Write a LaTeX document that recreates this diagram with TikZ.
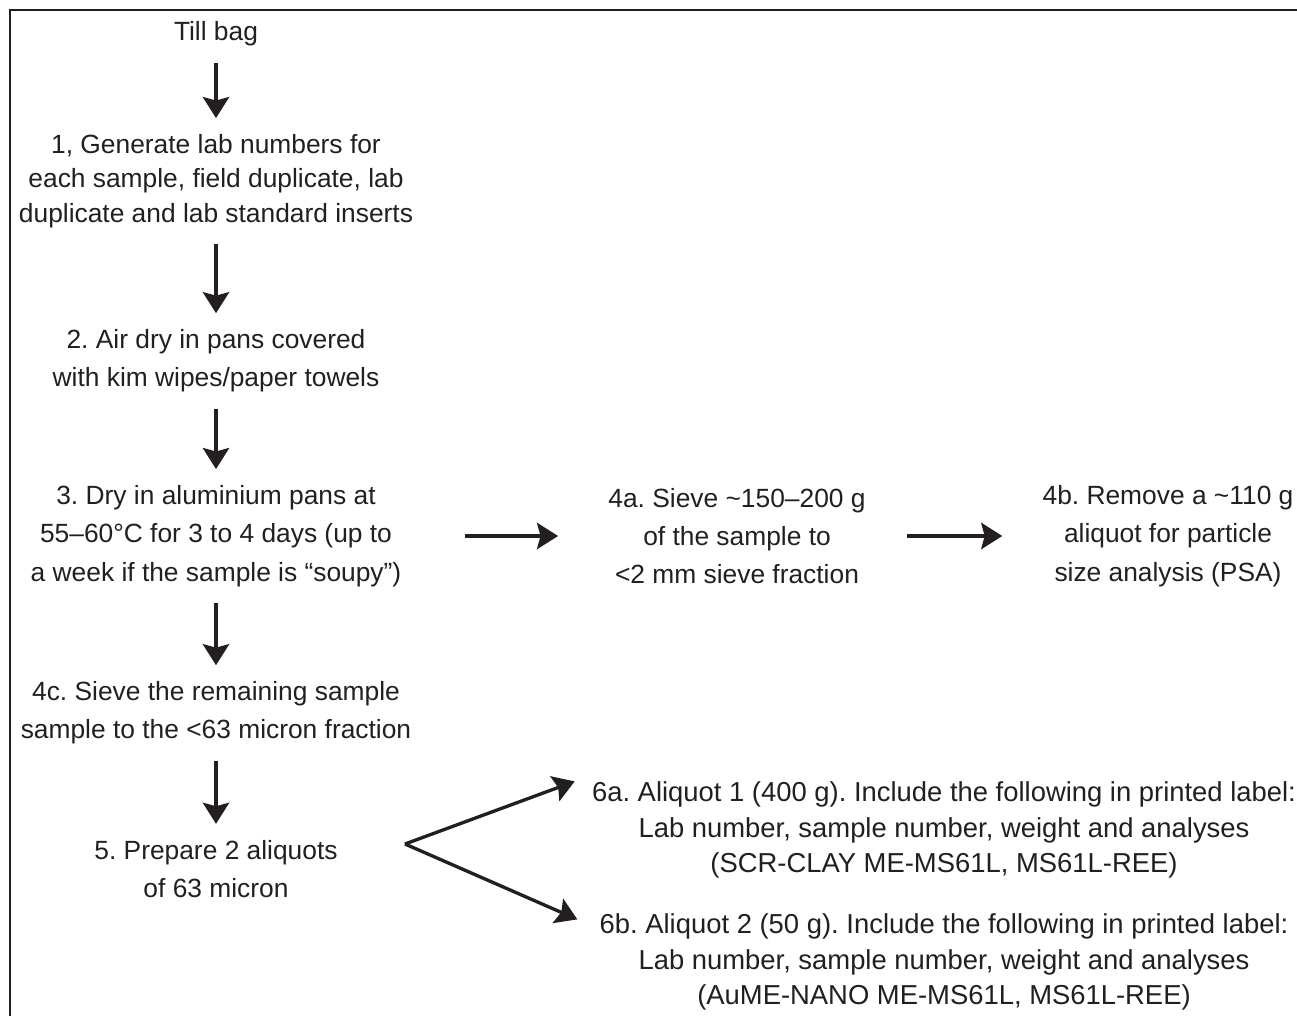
\documentclass[tikz,border=0pt]{standalone}
\usepackage{fontspec}
\setmainfont{Liberation Sans}
\usepackage{xcolor}
\usepackage{tikz}
\usetikzlibrary{arrows.meta, positioning}
\definecolor{ink}{HTML}{231F20}
\frenchspacing

\begin{document}
\begin{tikzpicture}[
    x=0.02cm, y=-0.02cm,
    stage/.style={align=center, inner sep=0pt, text=ink, font=\fontsize{15}{21.8}\selectfont},
    tightstage/.style={stage, font=\fontsize{15}{19.5}\selectfont},
    labelstage/.style={stage, font=\fontsize{15.6}{20.2}\selectfont},
    arr/.style={-{Stealth[length=12pt, width=15pt, inset=2pt]}, line width=1.9pt, draw=ink, shorten <=0.32cm, shorten >=0.32cm},
    frame/.style={line width=1.6pt, draw=ink}
]
\useasboundingbox (0,0) rectangle (1297,1016);
% Frame (open at right and bottom)
\draw[frame] (10,1016) -- (10,10) -- (1297,10);

% Main column
\node[stage] (till) at (216,34) {Till bag};
\node[tightstage] (s1) at (216,181) {1, Generate lab numbers for\\each sample, field duplicate, lab\\duplicate and lab standard inserts};
\node[stage] (s2) at (216,361) {2. Air dry in pans covered\\with kim wipes/paper towels};
\node[stage] (s3) at (216,536) {3. Dry in aluminium pans at\\55--60°C for 3 to 4 days (up to\\a week if the sample is ``soupy'')};
\node[stage] (s4c) at (216,713) {4c. Sieve the remaining sample\\sample to the <63 micron fraction};
\node[stage] (s5) at (216,869) {5. Prepare 2 aliquots\\of 63 micron};

% Side branches
\node[stage] (s4a) at (737,536) {4a. Sieve \textasciitilde150--200 g\\of the sample to\\<2 mm sieve fraction};
\node[stage] (s4b) at (1168,536) {4b. Remove a \textasciitilde110 g\\aliquot for particle\\size analysis (PSA)};
\node[labelstage] (s6a) at (944,830) {6a. Aliquot 1 (400 g). Include the following in printed label:\\Lab number, sample number, weight and analyses\\(SCR-CLAY ME-MS61L, MS61L-REE)};
\node[labelstage] (s6b) at (944,962) {6b. Aliquot 2 (50 g). Include the following in printed label:\\Lab number, sample number, weight and analyses\\(AuME-NANO ME-MS61L, MS61L-REE)};

% Arrows down the column
\draw[arr] (till) -- (s1);
\draw[arr] (s1) -- (s2);
\draw[arr] (s2) -- (s3);
\draw[arr] (s3) -- (s4c);
\draw[arr] (s4c) -- (s5);

% Arrows to the right
\draw[arr, shorten <=1.26cm, shorten >=1cm] (s3) -- (s4a);
\draw[arr, shorten <=0.82cm, shorten >=0.8cm] (s4a) -- (s4b);

% Fork to the two aliquots
\coordinate (fork) at (405,844);
\draw[arr, shorten <=0pt, shorten >=0pt] (fork) -- ([shift={(-17,0)}]s6a.north west);
\draw[arr, shorten <=0pt, shorten >=0pt] (fork) -- ([shift={(-22,6)}]s6b.north west);

\end{tikzpicture}
\end{document}
